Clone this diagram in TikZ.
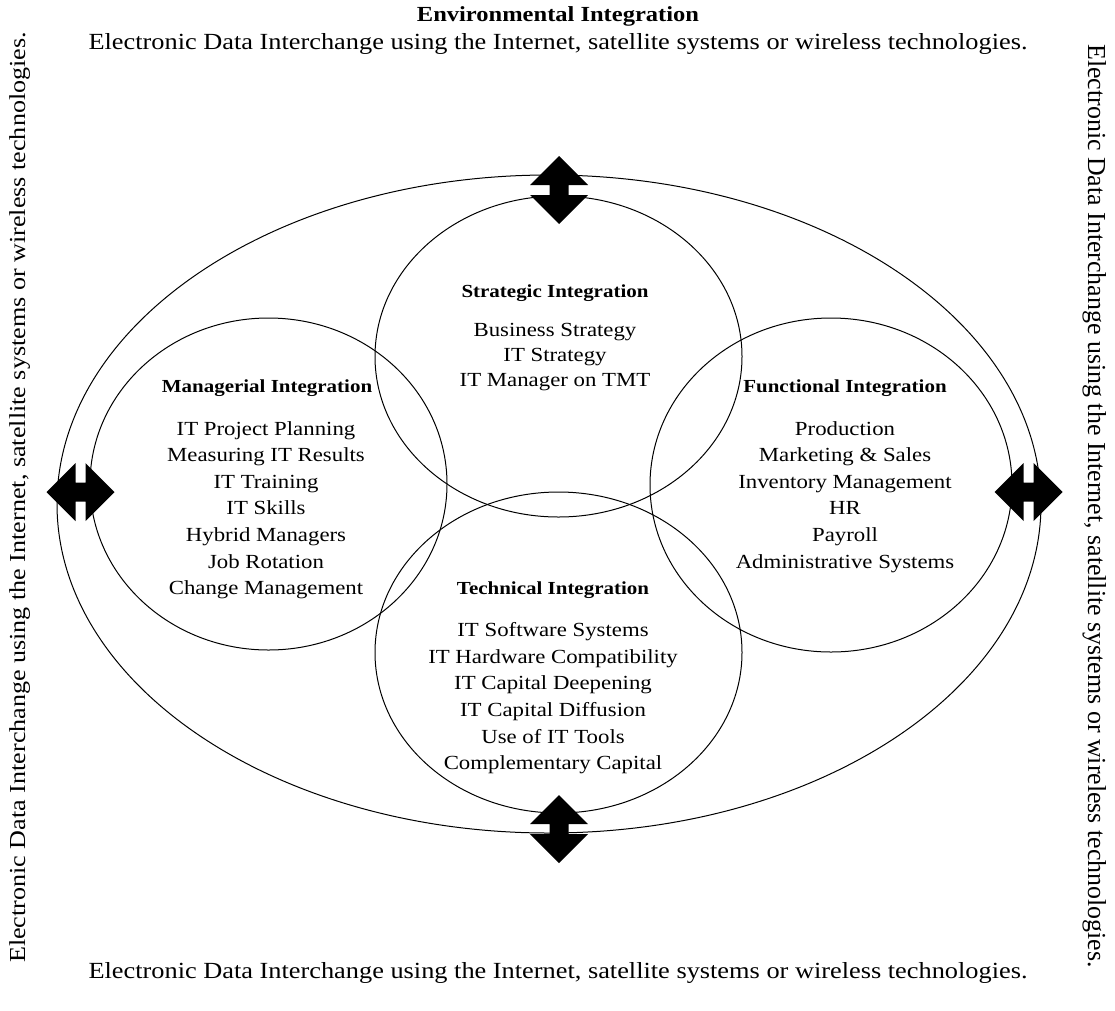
\documentclass[tikz,border=0pt]{standalone}
\usepackage{fontspec}
\setmainfont{Liberation Serif}[FakeStretch=1.14]
\newfontfamily\timesfont{Liberation Serif}
\begin{document}
\begin{tikzpicture}[x=1pt,y=-1pt,
  item/.style={anchor=base, inner sep=0pt, font=\fontsize{20}{24}\selectfont},
  ttl/.style={anchor=base, inner sep=0pt, font=\fontsize{18.4}{22}\selectfont\bfseries},
  envttl/.style={anchor=base, inner sep=0pt, font=\fontsize{21.5}{25}\selectfont\bfseries},
  edi/.style={anchor=base, inner sep=0pt, font=\fontsize{23.1}{27}\selectfont},
  ring/.style={draw=black, line width=1pt},
  vdbl/.pic={\fill[black] (0,-34) -- (29,-5) -- (9.5,-5) -- (9.5,5) -- (29,5) -- (0,34)
                 -- (-29,5) -- (-9.5,5) -- (-9.5,-5) -- (-29,-5) -- cycle;},
  hdbl/.pic={\fill[black] (-34,0) -- (-5,-29) -- (-5,-9.5) -- (5,-9.5) -- (5,-29) -- (34,0)
                 -- (5,29) -- (5,9.5) -- (-5,9.5) -- (-5,29) -- cycle;}
]
\useasboundingbox (0,0) rectangle (1115,1010);

% rings
\draw[ring] (549,504) ellipse [x radius=492, y radius=329];
\draw[ring] (558.5,356.5) ellipse [x radius=183.5, y radius=160.5];
\draw[ring] (558.5,652.5) ellipse [x radius=183.5, y radius=160.5];
\draw[ring] (268.5,484) ellipse [x radius=178.5, y radius=166];
\draw[ring] (831,485) ellipse [x radius=181, y radius=167];

% double arrows
\pic at (559,190) {vdbl};
\pic at (559,829) {vdbl};
\pic at (80.5,492) {hdbl};
\pic at (1028.5,492) {hdbl};

% outer texts
\node[envttl] (env) at (558,21) {Environmental Integration};
\node[edi] (ediTop) at (558,49) {Electronic Data Interchange using the Internet, satellite systems or wireless technologies.};
\node[edi] (ediBot) at (558,978) {Electronic Data Interchange using the Internet, satellite systems or wireless technologies.};
\node[anchor=base, inner sep=0pt, rotate=90, font=\fontsize{22.9}{27}\selectfont] (ediL) at (25,497.5)
  {Electronic Data Interchange using the Internet, satellite systems or wireless technologies.};
\node[anchor=base, inner sep=0pt, rotate=-90, font=\timesfont\fontsize{25.9}{30}\selectfont] (ediR) at (1088,506)
  {Electronic Data Interchange using the Internet, satellite systems or wireless technologies.};

% strategic
\node[ttl] (sT) at (555,297.3) {Strategic Integration};
\foreach \t [count=\i] in {Business Strategy, IT Strategy, IT Manager on TMT}
  \node[item] (s\i) at (555,336.7+25*\i-25) {\t};

% managerial
\node[ttl] (mT) at (267,392.7) {Managerial Integration};
\foreach \t [count=\i] in {IT Project Planning, Measuring IT Results, IT Training, IT Skills, Hybrid Managers, Job Rotation, Change Management}
  \node[item] (m\i) at (266,435+26.6*\i-26.6) {\t};

% functional
\node[ttl] (fT) at (845,392.7) {Functional Integration};
\foreach \t [count=\i] in {Production, Marketing \& Sales, Inventory Management, HR, Payroll, Administrative Systems}
  \node[item] (f\i) at (845,435+26.6*\i-26.6) {\t};

% technical
\node[ttl] (tT) at (553,594) {Technical Integration};
\foreach \t [count=\i] in {IT Software Systems, IT Hardware Compatibility, IT Capital Deepening, IT Capital Diffusion, Use of IT Tools, Complementary Capital}
  \node[item] (t\i) at (553,636.7+26.6*\i-26.6) {\t};
\end{tikzpicture}
\end{document}
